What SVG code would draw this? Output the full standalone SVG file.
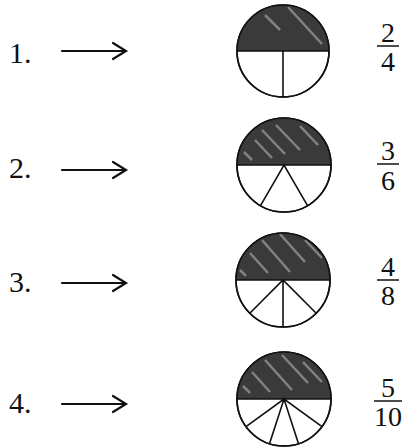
<svg xmlns="http://www.w3.org/2000/svg" width="418" height="448" viewBox="0 0 418 448">
<style>
text{font-family:"Liberation Serif","Times New Roman",serif;fill:#111}
.lbl{font-size:30px}
.fr{font-size:28px;text-anchor:middle}
.bar{stroke:#111;stroke-width:1.5}
.ar{stroke:#111;stroke-width:2.2;fill:none;stroke-linecap:round;stroke-linejoin:miter}
.rim{fill:#fff;stroke:#111;stroke-width:1.6}
.sh{fill:#3a3a3a}
.sp{stroke:#111;stroke-width:1.6;fill:none}
.st{stroke:#bdbdbd;stroke-width:2.5;opacity:0.55;fill:none}
</style>
<g id="connectors">
<path class="ar" d="M62 51H125M113 43L126 51L113 59"/>
<path class="ar" d="M62 170H125M113 162L126 170L113 178"/>
<path class="ar" d="M62 283H125M113 275L126 283L113 291"/>
<path class="ar" d="M62 404H125M113 396L126 404L113 412"/>
</g>
<g id="label1"><text class="lbl" x="9" y="63">1.</text></g>
<g id="label2"><text class="lbl" x="9" y="178">2.</text></g>
<g id="label3"><text class="lbl" x="9" y="292">3.</text></g>
<g id="label4"><text class="lbl" x="9" y="413">4.</text></g>
<g id="circle1">
<circle class="rim" cx="283" cy="51" r="46"/>
<path class="sh" d="M237 51A46 46 0 0 1 329 51Z"/>
<path class="st" d="M288 7L322 44"/>
<path class="st" d="M265 15L280 30"/>
<line class="sp" x1="237" y1="51" x2="329" y2="51"/>
<line class="sp" x1="283" y1="51" x2="283" y2="97"/>
<circle cx="283" cy="51" r="46" fill="none" stroke="#111" stroke-width="1.6"/>
</g>
<g id="circle2">
<circle class="rim" cx="284" cy="165" r="47"/>
<path class="sh" d="M237 165A47 47 0 0 1 331 165Z"/>
<path class="st" d="M255 140L272 158M262 130L285 154M276 125L300 150M300 126L318 145M244 152L252 160"/>
<line class="sp" x1="237" y1="165" x2="331" y2="165"/>
<path class="sp" d="M260.5 205.7L284 165L307.5 205.7"/>
<circle cx="284" cy="165" r="47" fill="none" stroke="#111" stroke-width="1.6"/>
</g>
<g id="circle3">
<circle class="rim" cx="283" cy="280" r="47"/>
<path class="sh" d="M236 280A47 47 0 0 1 330 280Z"/>
<path class="st" d="M250 253L268 273M262 240L290 272M280 234L305 262M305 240L322 258M240 270L246 276"/>
<line class="sp" x1="236" y1="280" x2="330" y2="280"/>
<path class="sp" d="M249.8 313.2L283 280L316.2 313.2M283 280V327"/>
<circle cx="283" cy="280" r="47" fill="none" stroke="#111" stroke-width="1.6"/>
</g>
<g id="circle4">
<circle class="rim" cx="284" cy="399" r="47"/>
<path class="sh" d="M237 399A47 47 0 0 1 331 399Z"/>
<path class="st" d="M252 372L270 392M265 360L292 390M282 355L308 383M303 362L322 382M243 386L250 393"/>
<line class="sp" x1="237" y1="399" x2="331" y2="399"/>
<path class="sp" d="M246 426.6L284 399L322 426.6M269.5 443.7L284 399L298.5 443.7"/>
<circle cx="284" cy="399" r="47" fill="none" stroke="#111" stroke-width="1.6"/>
</g>
<g id="frac1">
<text class="fr" x="388" y="42">2</text>
<line class="bar" x1="377" y1="46" x2="399" y2="46"/>
<text class="fr" x="388" y="71">4</text>
</g>
<g id="frac2">
<text class="fr" x="388" y="160">3</text>
<line class="bar" x1="377" y1="164" x2="399" y2="164"/>
<text class="fr" x="388" y="190">6</text>
</g>
<g id="frac3">
<text class="fr" x="388" y="276">4</text>
<line class="bar" x1="377" y1="280" x2="399" y2="280"/>
<text class="fr" x="388" y="305">8</text>
</g>
<g id="frac4">
<text class="fr" x="388" y="397">5</text>
<line class="bar" x1="374" y1="401" x2="402" y2="401"/>
<text class="fr" x="388" y="426">10</text>
</g>
</svg>
